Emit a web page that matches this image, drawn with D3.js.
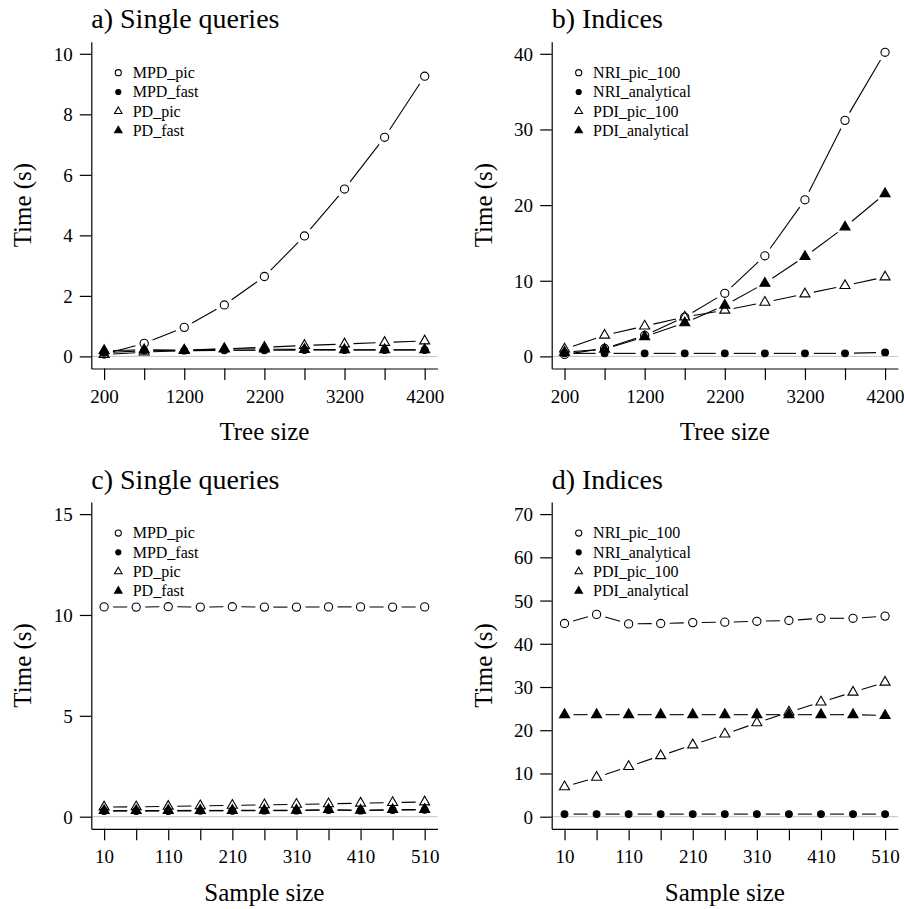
<!DOCTYPE html>
<html>
<head>
<meta charset="utf-8">
<script src="https://cdn.jsdelivr.net/npm/d3@7"></script>
<style>
  body { margin: 0; background: #fff; }
  svg text { font-family: "Liberation Serif", "Times New Roman", serif; fill: #000; }
</style>
</head>
<body>
<div id="chart"></div>
<script>
/* DATA */
const treeSizes = [200, 700, 1200, 1700, 2200, 2700, 3200, 3700, 4200];
const sampleSizes = [10, 60, 110, 160, 210, 260, 310, 360, 410, 460, 510];

const treeTickLabels = [200, 1200, 2200, 3200, 4200];
const sampleTickLabels = [10, 110, 210, 310, 410, 510];

// a) single queries vs tree size
const aMPDpic  = [0.08, 0.43, 0.96, 1.70, 2.64, 3.98, 5.53, 7.24, 9.26];
const aMPDfast = [0.12, 0.19, 0.19, 0.20, 0.20, 0.21, 0.21, 0.21, 0.21];
const aPDpic   = [0.06, 0.14, 0.19, 0.25, 0.30, 0.36, 0.41, 0.46, 0.51];
const aPDfast  = [0.19, 0.22, 0.21, 0.25, 0.24, 0.23, 0.22, 0.22, 0.22];

// b) indices vs tree size
const bNRIpic = [0.26, 1.05, 2.77, 5.20, 8.34, 13.3, 20.7, 31.2, 40.2];
const bNRIan  = [0.40, 0.40, 0.40, 0.40, 0.40, 0.40, 0.40, 0.40, 0.53];
const bPDIpic = [0.96, 2.80, 4.00, 5.20, 6.10, 7.15, 8.25, 9.35, 10.5];
const bPDIan  = [0.55, 0.95, 2.60, 4.43, 6.76, 9.66, 13.2, 17.1, 21.5];

// c) single queries vs sample size
const cMPDpic  = [10.40, 10.39, 10.41, 10.39, 10.41, 10.39, 10.39, 10.40, 10.40, 10.39, 10.40];
const cMPDfast = [0.28, 0.28, 0.28, 0.29, 0.29, 0.30, 0.30, 0.33, 0.30, 0.33, 0.34];
const cPDpic   = [0.48, 0.49, 0.51, 0.54, 0.56, 0.59, 0.61, 0.64, 0.67, 0.70, 0.73];
const cPDfast  = [0.30, 0.30, 0.31, 0.31, 0.31, 0.32, 0.32, 0.35, 0.32, 0.35, 0.36];

// d) indices vs sample size
const dNRIpic = [44.7, 46.8, 44.6, 44.7, 44.9, 45.0, 45.2, 45.4, 45.9, 45.9, 46.4];
const dNRIan  = [0.6, 0.6, 0.6, 0.6, 0.6, 0.6, 0.6, 0.6, 0.6, 0.6, 0.6];
const dPDIpic = [6.9, 9.1, 11.6, 14.1, 16.6, 19.1, 21.7, 24.2, 26.5, 28.8, 31.1];
const dPDIan  = [23.6, 23.6, 23.6, 23.6, 23.6, 23.6, 23.6, 23.6, 23.6, 23.6, 23.4];

const singleNames = ["MPD_pic", "MPD_fast", "PD_pic", "PD_fast"];
const indexNames = ["NRI_pic_100", "NRI_analytical", "PDI_pic_100", "PDI_analytical"];
// symbol per series position: open circle, filled circle, open triangle, filled triangle
const symbols = ["circle-open", "circle-filled", "tri-open", "tri-filled"];

const panels = [
  { title: "a) Single queries", xlab: "Tree size", x: treeSizes, xLabels: treeTickLabels,
    yMax: 10, yTicks: [0, 2, 4, 6, 8, 10], names: singleNames,
    series: [aMPDpic, aMPDfast, aPDpic, aPDfast], left: 91.3, top: 41.7 },
  { title: "b) Indices", xlab: "Tree size", x: treeSizes, xLabels: treeTickLabels,
    yMax: 40, yTicks: [0, 10, 20, 30, 40], names: indexNames,
    series: [bNRIpic, bNRIan, bPDIpic, bPDIan], left: 551.7, top: 41.7 },
  { title: "c) Single queries", xlab: "Sample size", x: sampleSizes, xLabels: sampleTickLabels,
    yMax: 15, yTicks: [0, 5, 10, 15], names: singleNames,
    series: [cMPDpic, cMPDfast, cPDpic, cPDfast], left: 91.3, top: 502 },
  { title: "d) Indices", xlab: "Sample size", x: sampleSizes, xLabels: sampleTickLabels,
    yMax: 70, yTicks: [0, 10, 20, 30, 40, 50, 60, 70], names: indexNames,
    series: [dNRIpic, dNRIan, dPDIpic, dPDIan], left: 551.7, top: 502 }
];

const width = 904, height = 909;
const plotW = 346.2, plotH = 326.8;
const tickLen = 11.5;
const gap = 9; // gap around points for type "b" lines

const svg = d3.select("#chart").append("svg")
  .attr("width", width)
  .attr("height", height);

function drawSymbol(g, kind, cx, cy, s) {
  if (kind.startsWith("circle")) {
    const filled = kind === "circle-filled";
    g.append("circle")
      .attr("cx", cx).attr("cy", cy)
      .attr("r", (filled ? 3.4 : 4.1) * s)
      .attr("fill", filled ? "#000" : "none")
      .attr("stroke", "#000")
      .attr("stroke-width", 1.1);
  } else {
    const r = 5.8 * s;
    const xc = r * Math.sqrt(3) / 2, yc = r / 2;
    g.append("path")
      .attr("d", `M${cx},${cy - r}L${cx + xc},${cy + yc}L${cx - xc},${cy + yc}Z`)
      .attr("fill", kind === "tri-filled" ? "#000" : "none")
      .attr("stroke", "#000")
      .attr("stroke-width", 1.1);
  }
}

panels.forEach(p => {
  const xMin = d3.min(p.x), xMax = d3.max(p.x);
  const xPad = (xMax - xMin) * 0.04, yPad = p.yMax * 0.04;

  const xScale = d3.scaleLinear()
    .domain([xMin - xPad, xMax + xPad])
    .range([p.left, p.left + plotW]);
  const yScale = d3.scaleLinear()
    .domain([-yPad, p.yMax + yPad])
    .range([p.top + plotH, p.top]);

  const g = svg.append("g");

  // zero reference line
  g.append("line")
    .attr("x1", p.left).attr("x2", p.left + plotW)
    .attr("y1", yScale(0)).attr("y2", yScale(0))
    .attr("stroke", "#c4c4c4")
    .attr("stroke-width", 1);

  // axes
  const xAxis = d3.axisBottom(xScale)
    .tickValues(p.x)
    .tickSizeInner(tickLen)
    .tickSizeOuter(0)
    .tickFormat(d => p.xLabels.includes(d) ? d : "");
  const yAxis = d3.axisLeft(yScale)
    .tickValues(p.yTicks)
    .tickSizeInner(tickLen)
    .tickSizeOuter(0);

  const gx = g.append("g")
    .attr("transform", `translate(0,${p.top + plotH})`)
    .call(xAxis);
  gx.selectAll("text")
    .attr("y", 34.4)
    .attr("dy", null)
    .style("font-size", "19px")
    .style("font-family", "Liberation Serif");

  const gy = g.append("g")
    .attr("transform", `translate(${p.left},0)`)
    .call(yAxis);
  gy.selectAll("text")
    .attr("x", -18.6)
    .attr("dy", "0.34em")
    .style("font-size", "19px")
    .style("font-family", "Liberation Serif");

  [gx, gy].forEach(a => {
    a.select(".domain").attr("stroke", "#000").attr("stroke-width", 1.2);
    a.selectAll(".tick line").attr("stroke", "#000").attr("stroke-width", 1.2);
  });

  // titles
  g.append("text")
    .attr("x", p.left)
    .attr("y", p.top - 13.4)
    .style("font-size", "28px")
    .text(p.title);

  g.append("text")
    .attr("x", p.left + plotW / 2)
    .attr("y", p.top + plotH + 71.7)
    .attr("text-anchor", "middle")
    .style("font-size", "25px")
    .text(p.xlab);

  g.append("text")
    .attr("transform", `translate(${p.left - 60},${p.top + plotH / 2}) rotate(-90)`)
    .attr("text-anchor", "middle")
    .style("font-size", "25px")
    .text("Time (s)");

  // series: lines with gaps around the points, then the points
  p.series.forEach((vals, si) => {
    const pts = vals.map((v, i) => [xScale(p.x[i]), yScale(v)]);
    const segs = d3.pairs(pts).filter(([a, b]) => Math.hypot(b[0] - a[0], b[1] - a[1]) > 2 * gap);
    g.selectAll(null)
      .data(segs)
      .join("line")
      .each(function ([a, b]) {
        const len = Math.hypot(b[0] - a[0], b[1] - a[1]);
        const ux = (b[0] - a[0]) / len, uy = (b[1] - a[1]) / len;
        d3.select(this)
          .attr("x1", a[0] + ux * gap).attr("y1", a[1] + uy * gap)
          .attr("x2", b[0] - ux * gap).attr("y2", b[1] - uy * gap);
      })
      .attr("stroke", "#000")
      .attr("stroke-width", 1.1);

    pts.forEach(([cx, cy]) => drawSymbol(g, symbols[si], cx, cy, 1));
  });

  // legend
  const leg = g.append("g");
  p.names.forEach((name, i) => {
    const ly = p.top + 31 + i * 19.3;
    drawSymbol(leg, symbols[i], p.left + 27, ly, 0.75);
    leg.append("text")
      .attr("x", p.left + 41.4)
      .attr("y", ly)
      .attr("dy", "0.34em")
      .style("font-size", "16px")
      .text(name);
  });
});
</script>
</body>
</html>
